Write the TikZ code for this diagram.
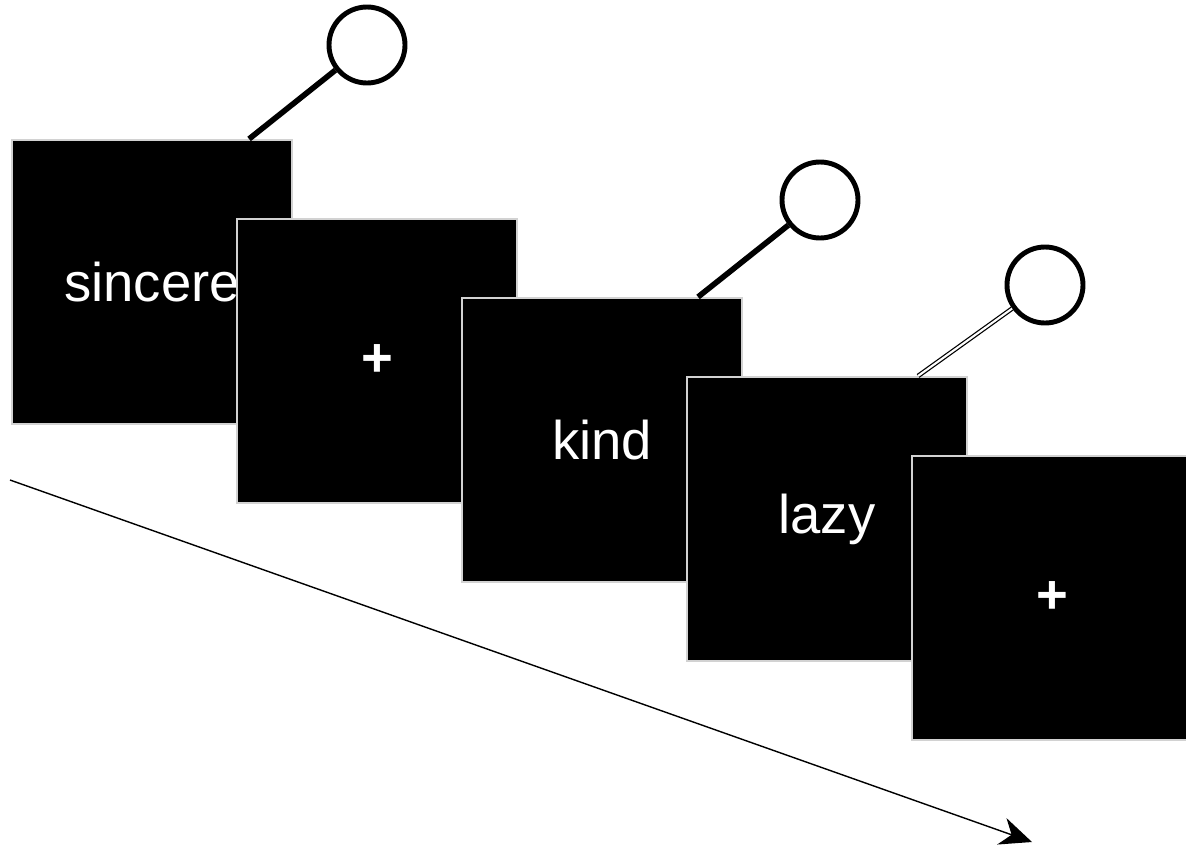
\documentclass[tikz,border=0pt]{standalone}
\usepackage{fontspec}
\setmainfont{Liberation Sans}
\usetikzlibrary{arrows.meta}
\definecolor{edgegray}{RGB}{210, 210, 210}

\tikzset{
    screen/.style={rectangle,fill=black,draw=edgegray,line width=0.6pt,text=white,minimum width=2.8cm,minimum height=2.84cm,font=\fontsize{15.5}{18}\selectfont},
    balloon/.style={circle,draw=black,line width=1.4pt,fill=white,minimum size=0.76cm,inner sep=0pt},
    string/.style={line width=1.6pt}
}

\begin{document}
\begin{tikzpicture}
        \useasboundingbox (0,0) rectangle (11.86,-8.48);

        % time axis
        \coordinate (tstart) at (0.10,-4.80);
        \coordinate (tend) at (10.32,-8.42);
        \draw[line width=0.4pt,-{Stealth[length=3.2mm,width=2.8mm]}] (tstart) -- (tend);

        % screens
        \node[screen] (s1) at (1.52,-2.82) {sincere};
        \node[screen] (s2) at (3.77,-3.61) {\textbf{+}};
        \node[screen] (s3) at (6.02,-4.40) {kind};
        \node[screen] (s4) at (8.27,-5.19) {lazy};
        \node[screen] (s5) at (10.52,-5.98) {\textbf{+}};

        % balloons
        \node[balloon] (b1) at (3.67,-0.45) {};
        \node[balloon] (b2) at (8.20,-2.00) {};
        \node[balloon] (b3) at (10.45,-2.85) {};

        \coordinate (p1) at ([xshift=-0.44cm]s1.north east);
        \coordinate (p2) at ([xshift=-0.45cm]s3.north east);
        \coordinate (p3) at ([xshift=-0.50cm]s4.north east);

        \draw[string] (b1) -- (p1);
        \draw[string] (b2) -- (p2);
        \draw[line width=0.35pt,double,double distance=0.6pt] (b3) -- (p3);
    \end{tikzpicture}
\end{document}
